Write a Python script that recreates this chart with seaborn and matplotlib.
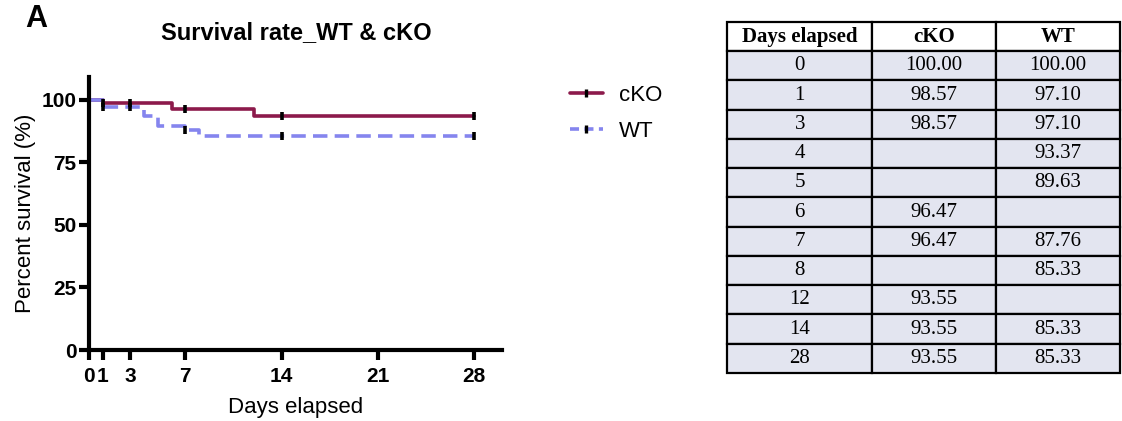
import matplotlib
matplotlib.use("Agg")
import matplotlib.pyplot as plt
from matplotlib.lines import Line2D
import pandas as pd
import seaborn as sns

# step curves (Kaplan-Meier)
cko_days = [0, 1, 6, 12, 28]
cko_surv = [100.00, 98.57, 96.47, 93.55, 93.55]
wt_days = [0, 1, 4, 5, 7, 8, 28]
wt_surv = [100.00, 97.10, 93.37, 89.63, 87.76, 85.33, 85.33]

# censor ticks
censor_days = [1, 3, 7, 14, 28]
cko_censor = [98.57, 98.57, 96.47, 93.55, 93.55]
wt_censor = [97.10, 97.10, 87.76, 85.33, 85.33]

# table contents
table_header = ["Days elapsed", "cKO", "WT"]
table_days = ["0", "1", "3", "4", "5", "6", "7", "8", "12", "14", "28"]
table_cko = ["100.00", "98.57", "98.57", "", "", "96.47", "96.47", "", "93.55", "93.55", "93.55"]
table_wt = ["100.00", "97.10", "97.10", "93.37", "89.63", "", "87.76", "85.33", "", "85.33", "85.33"]

x_ticks = [0, 1, 3, 7, 14, 21, 28]
y_ticks = [0, 25, 50, 75, 100]

CKO_COLOR = "#8c1a4b"
WT_COLOR = "#8585ee"

sns.set_style("white")
plt.rcParams["font.family"] = ["Liberation Sans", "DejaVu Sans"]
plt.rcParams["text.color"] = "black"
plt.rcParams["axes.labelcolor"] = "black"
plt.rcParams["xtick.color"] = "black"
plt.rcParams["ytick.color"] = "black"

curves = pd.concat([
    pd.DataFrame({"day": cko_days, "survival": cko_surv, "group": "cKO"}),
    pd.DataFrame({"day": wt_days, "survival": wt_surv, "group": "WT"}),
])
censors = pd.concat([
    pd.DataFrame({"day": censor_days, "survival": cko_censor, "group": "cKO"}),
    pd.DataFrame({"day": censor_days, "survival": wt_censor, "group": "WT"}),
])

fig = plt.figure(figsize=(11.22, 4.21), dpi=100)
ax = fig.add_axes([0.0793, 0.1686, 0.368, 0.648])

sns.lineplot(
    data=curves, x="day", y="survival", hue="group", style="group",
    palette={"cKO": CKO_COLOR, "WT": WT_COLOR},
    dashes={"cKO": "", "WT": (4, 2)},
    drawstyle="steps-post", linewidth=2.6, legend=False, ax=ax,
)
sns.scatterplot(
    data=censors, x="day", y="survival", marker="|", color="black",
    s=30, linewidth=2.6, legend=False, ax=ax, zorder=5,
)

ax.set_xlim(0, 30)
ax.set_ylim(0, 109)
ax.set_xticks(x_ticks)
ax.set_yticks(y_ticks)
ax.tick_params(axis="y", direction="out", length=7, width=3, pad=2,
               labelsize=15, left=True)
ax.tick_params(axis="x", direction="out", length=7, width=3, pad=5,
               labelsize=15, bottom=True)
for lab in ax.get_xticklabels() + ax.get_yticklabels():
    lab.set_fontweight("bold")
sns.despine(ax=ax)
for side in ["left", "bottom"]:
    ax.spines[side].set_linewidth(3)
    ax.spines[side].set_color("black")
ax.set_xlabel("Days elapsed", fontsize=16, labelpad=8)
ax.set_ylabel("Percent survival (%)", fontsize=16, labelpad=4)

fig.text(0.264, 0.922, "Survival rate_WT & cKO", fontsize=17, fontweight="bold",
         ha="center", va="center")
fig.text(0.032, 0.955, "A", fontsize=22, fontweight="bold", ha="center", va="center")

handles = [
    (Line2D([], [], color=CKO_COLOR, lw=2.6),
     Line2D([], [], color="black", marker="|", ls="none", ms=6, mew=2.4)),
    (Line2D([], [], color=WT_COLOR, lw=2.6, ls=(0, (2.5, 1.5))),
     Line2D([], [], color="black", marker="|", ls="none", ms=6, mew=2.4)),
]
fig.legend(handles, ["cKO", "WT"], loc="upper left", bbox_to_anchor=(0.490, 0.845),
           frameon=False, fontsize=16, handlelength=1.5, handletextpad=0.7,
           labelspacing=0.65)

# table
tax = fig.add_axes([0.648, 0.114, 0.350, 0.834])
tax.axis("off")
cells = [[d, c, w] for d, c, w in zip(table_days, table_cko, table_wt)]
tbl = tax.table(cellText=cells, colLabels=table_header, loc="center",
                bbox=[0, 0, 1, 1], cellLoc="center", colWidths=[0.37, 0.315, 0.315])
tbl.auto_set_font_size(False)
for (r, c), cell in tbl.get_celld().items():
    cell.set_linewidth(1.6)
    cell.set_edgecolor("black")
    cell.get_text().set_fontfamily("Liberation Serif")
    cell.get_text().set_fontsize(15)
    if r == 0:
        cell.set_facecolor("white")
        cell.get_text().set_fontweight("bold")
    else:
        cell.set_facecolor("#e3e5f0")

fig.savefig("out.png", dpi=100)
